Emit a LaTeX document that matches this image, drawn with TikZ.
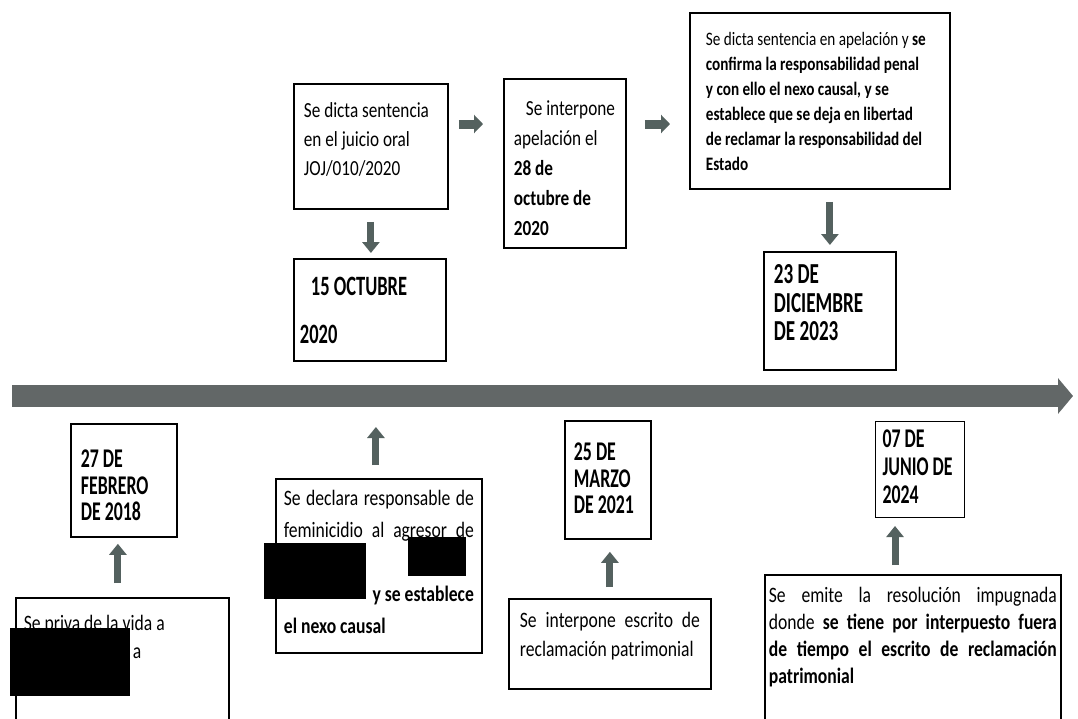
\documentclass[tikz,border=0pt]{standalone}
\usepackage{fontspec}
\setmainfont{Carlito}[FakeStretch=0.8]
\newfontfamily\fechafont{Carlito}[FakeStretch=0.66]
\usetikzlibrary{arrows.meta}

\definecolor{grisflecha}{RGB}{84,97,95}
\definecolor{grislinea}{RGB}{98,103,103}

\tikzset{
    caja/.style={draw=black, line width=1.8pt, anchor=north west, inner ysep=0pt, fill=white},
    flecha/.style={grisflecha, line width=7pt, -{Triangle[width=17pt,length=11pt]}},
    tachado/.style={fill=black}
}

\begin{document}
\begin{tikzpicture}[x=1pt, y=-1pt]
    \useasboundingbox (0,0) rectangle (1078,718);
    \clip (0,0) rectangle (1078,718);
    \fill[white] (0,0) rectangle (1078,718);

    % Linea de tiempo
    \coordinate (inicio) at (12,396);
    \coordinate (fin) at (1073,396);
    \draw[grislinea, line width=22pt, -{Triangle[width=35pt,length=15pt]}] (inicio) -- (fin);

    % Arriba
    \node[caja, inner xsep=10pt, font=\fontsize{21.5}{29}\selectfont] (sentencia) at (293,83)
        {\parbox[t][125pt][t]{134pt}{\rule{0pt}{34pt}Se dicta sentencia\\ en el juicio oral\\ JOJ/010/2020}};
    \node[caja, inner xsep=10pt, font=\fontsize{21.5}{30}\selectfont] (apelacion) at (503,78)
        {\parbox[t][169pt][t]{102pt}{\rule{0pt}{37pt}\hspace*{12pt}Se interpone\\ apelación el\\ \textbf{28 de\\ octubre de\\ 2020}}};
    \node[caja, inner xsep=16pt, font=\fontsize{19}{25}\selectfont] (confirma) at (689,12)
        {\parbox[t][176pt][t]{228pt}{\rule{0pt}{33pt}Se dicta sentencia en apelación y \textbf{se\\ confirma la responsabilidad penal\\ y con ello el nexo causal, y se\\ establece que se deja en libertad\\ de reclamar la responsabilidad del\\ Estado}}};
    \node[caja, inner xsep=6pt, font=\fechafont\bfseries\fontsize{28}{48}\selectfont] (octubre) at (293,258)
        {\parbox[t][102pt][t]{140pt}{\rule{0pt}{37pt}\hspace*{11pt}15 OCTUBRE\\ 2020}};
    \node[caja, inner xsep=10pt, font=\fechafont\bfseries\fontsize{29}{28.5}\selectfont] (diciembre) at (763,251)
        {\parbox[t][118pt][t]{112pt}{\rule{0pt}{32pt}23 DE\\ DICIEMBRE\\ DE 2023}};

    % Abajo
    \node[caja, inner xsep=10pt, font=\fechafont\bfseries\fontsize{27}{26.5}\selectfont] (febrero) at (70,423)
        {\parbox[t][113pt][t]{86pt}{\rule{0pt}{44pt}27 DE\\ FEBRERO\\ DE 2018}};
    \node[caja, inner xsep=9pt, font=\fechafont\bfseries\fontsize{27}{26.5}\selectfont] (marzo) at (564,420)
        {\parbox[t][118pt][t]{68pt}{\rule{0pt}{40pt}25 DE\\ MARZO\\ DE 2021}};
    \node[caja, line width=1pt, inner xsep=7pt, font=\fechafont\bfseries\fontsize{27}{28}\selectfont] (junio) at (875,421)
        {\parbox[t][96pt][t]{75pt}{\rule{0pt}{26pt}07 DE\\ JUNIO DE\\ 2024}};

    \node[caja, inner xsep=8pt, font=\fontsize{22}{28}\selectfont] (priva) at (15,597)
        {\parbox[t][133pt][t]{197pt}{\rule{0pt}{33pt}Se priva de la vida a\\ \hspace*{109pt}a}};
    \node[caja, inner xsep=8pt, font=\fontsize{22}{32}\selectfont] (declara) at (275,478)
        {\parbox[t][174pt][t]{190pt}{\rule{0pt}{27pt}Se declara responsable de\linebreak feminicidio al agresor de\linebreak\mbox{}\\ \mbox{}\hfill\textbf{y se establece}\\ \textbf{el nexo causal}}};
    \node[caja, inner xsep=11pt, font=\fontsize{22}{29}\selectfont] (patrimonial) at (508,598)
        {\parbox[t][90pt][t]{180pt}{\rule{0pt}{29pt}Se interpone escrito de\linebreak reclamación patrimonial}};
    \node[caja, inner xsep=4pt, font=\fontsize{22}{27}\selectfont] (emite) at (764,574)
        {\parbox[t][160pt][t]{288pt}{\rule{0pt}{28pt}Se emite la resolución impugnada\linebreak donde \textbf{se tiene por interpuesto fuera\linebreak de tiempo el escrito de reclamación\linebreak patrimonial}}};

    % Flechas
    \coordinate (nivel) at (0,124);
    \draw[flecha, line width=9pt, -{Triangle[width=18pt,length=9pt]}, shorten <=10pt, shorten >=20pt] (sentencia.east |- nivel) -- (apelacion.west |- nivel);
    \draw[flecha, line width=9pt, -{Triangle[width=18pt,length=9pt]}, shorten <=18pt, shorten >=19pt] (apelacion.east |- nivel) -- (confirma.west |- nivel);
    \draw[flecha, shorten <=12pt, shorten >=5pt] (sentencia.south) -- (sentencia.south |- octubre.north);
    \draw[flecha, shorten <=12pt, shorten >=6pt] (diciembre.north |- confirma.south) -- (diciembre.north);

    \draw[flecha, shorten <=14pt, shorten >=6pt] ([xshift=-6pt]febrero.south |- priva.north) -- ([xshift=-6pt]febrero.south);
    \draw[flecha, shorten <=13pt, shorten >=31pt] ([xshift=-3pt]declara.north) -- ([xshift=-3pt]declara.north |- fin);
    \draw[flecha, shorten <=11pt, shorten >=12pt] (patrimonial.north) -- (patrimonial.north |- marzo.south);
    \draw[flecha, shorten <=9pt, shorten >=8pt] ([xshift=-25pt]junio.south |- emite.north) -- ([xshift=-25pt]junio.south);

    % Datos tachados
    \fill[tachado] (10,628) rectangle (130,696);
    \fill[tachado] (264,543) rectangle (366,599);
    \fill[tachado] (408,537) rectangle (466,576);
\end{tikzpicture}
\end{document}
